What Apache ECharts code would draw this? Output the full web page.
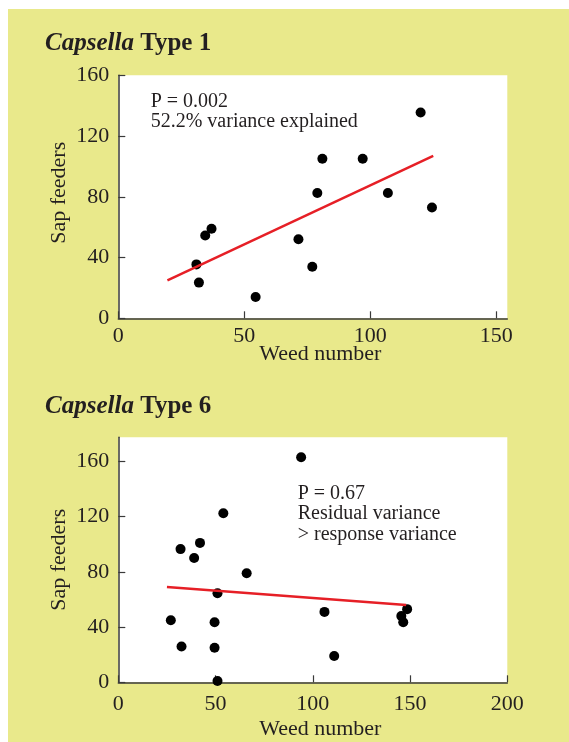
<!DOCTYPE html>
<html><head><meta charset="utf-8">
<script src="https://cdn.jsdelivr.net/npm/echarts@6/dist/echarts.min.js"></script>
<style>
html,body{margin:0;padding:0;background:#fff;}
#bg{position:absolute;left:8px;top:9px;width:561px;height:733px;background:#e9e98b;}
#c{position:absolute;left:0;top:0;width:569px;height:742px;}
</style>
</head><body><div id="bg"></div><div id="c"></div>
<script>
// Capsella Type 1
const t1Weed = [31, 32, 34.5, 37, 54.5, 71.5, 77, 79, 81, 97, 107, 120, 124.5];
const t1Sap  = [35.5, 23.5, 54.5, 59, 14, 52, 34, 82.5, 105, 105, 82.5, 135.5, 73];
const t1FitWeed = [19.5, 125];
const t1FitSap  = [25, 107];
// Capsella Type 6
const t6Weed = [27, 32, 32.5, 39, 42, 49.5, 49.5, 51, 51, 54, 66, 94, 106, 111, 145.5, 146.5, 148.5];
const t6Sap  = [45, 96.5, 26, 90, 101, 43.5, 25, 64.5, 1, 122.5, 79, 163, 51, 19, 48, 43.5, 53];
const t6FitWeed = [25, 148];
const t6FitSap  = [69, 56];
// ticks
const xTicks1 = [0, 50, 100, 150];
const yTicks1 = [0, 40, 80, 120, 160];
const xTicks6 = [0, 50, 100, 150, 200];
const yTicks6 = [0, 40, 80, 120, 160];
// texts
const genus = 'Capsella';
const typeLabels = ['Type 1', 'Type 6'];
const notes1 = ['P = 0.002', '52.2% variance explained'];
const notes6 = ['P = 0.67', 'Residual variance', '> response variance'];
const xName = 'Weed number';
const yName = 'Sap feeders';

const FONT = 'Liberation Serif';
const INK = '#231f20';
const AX = '#3a3a3a';

const zip = (a, b) => a.map((v, i) => [v, b[i]]);

function xAxis(grid, max, ticks, labelMargin, nameGap) {
  return {
    type: 'value', gridIndex: grid, min: 0, max: max,
    name: xName, nameLocation: 'middle', nameGap: nameGap, nameMoveOverlap: false,
    nameTextStyle: {fontFamily: FONT, fontSize: 22, color: INK, padding: [0, 0, 0, 15]},
    axisLine: {show: true, lineStyle: {color: AX, width: 1.5}},
    axisTick: {show: true, inside: true, length: 7, lineStyle: {color: AX, width: 1.2}, customValues: ticks},
    axisLabel: {fontFamily: FONT, fontSize: 22, color: INK, margin: labelMargin, customValues: ticks},
    splitLine: {show: false}
  };
}
function yAxis(grid, max, ticks, namePad) {
  return {
    type: 'value', gridIndex: grid, min: 0, max: max,
    name: yName, nameLocation: 'middle', nameGap: 48, nameRotate: 90, nameMoveOverlap: false,
    nameTextStyle: {fontFamily: FONT, fontSize: 22, color: INK, padding: namePad},
    axisLine: {show: true, lineStyle: {color: AX, width: 1.5}},
    axisTick: {show: true, inside: true, length: 7, lineStyle: {color: AX, width: 1.2}, customValues: ticks},
    axisLabel: {fontFamily: FONT, fontSize: 22, color: INK, margin: 9, customValues: ticks},
    splitLine: {show: false}
  };
}
function titleObj(txt, top) {
  return {
    left: 45, top: top, padding: 0,
    text: '{i|' + genus + '}{b| ' + txt + '}',
    textStyle: {
      rich: {
        i: {fontFamily: FONT, fontSize: 25, fontWeight: 'bold', fontStyle: 'italic', color: INK},
        b: {fontFamily: FONT, fontSize: 25, fontWeight: 'bold', color: INK}
      }
    }
  };
}

const chart = echarts.init(document.getElementById('c'), null, {renderer: 'canvas'});
chart.setOption({
  backgroundColor: 'transparent',
  animation: false,
  title: [titleObj(typeLabels[0], 31), titleObj(typeLabels[1], 394)],
  grid: [
    {left: 118.3, top: 75.3, width: 389, height: 243, show: true, backgroundColor: '#fff', borderWidth: 0},
    {left: 118.3, top: 437.3, width: 389, height: 245, show: true, backgroundColor: '#fff', borderWidth: 0}
  ],
  xAxis: [xAxis(0, 154.4, xTicks1, 7, 25), xAxis(1, 200, xTicks6, 11, 35.5)],
  yAxis: [yAxis(0, 160, yTicks1, [0, 0, 0, 8]), yAxis(1, 177.5, yTicks6, 0)],
  graphic: [
    {type: 'text', left: 150.7, top: 92, style: {text: notes1.join('\n'), font: '20px "Liberation Serif"', fill: INK, lineHeight: 19.5}},
    {type: 'text', left: 297.7, top: 483, style: {text: notes6.join('\n'), font: '20px "Liberation Serif"', fill: INK, lineHeight: 20.5}}
  ],
  series: [
    {type: 'scatter', xAxisIndex: 0, yAxisIndex: 0, data: zip(t1Weed, t1Sap), symbolSize: 10, itemStyle: {color: '#000', opacity: 1}, z: 3},
    {type: 'line', xAxisIndex: 0, yAxisIndex: 0, data: zip(t1FitWeed, t1FitSap), showSymbol: false, lineStyle: {color: '#e61f26', width: 2.5}, z: 4},
    {type: 'scatter', xAxisIndex: 1, yAxisIndex: 1, data: zip(t6Weed, t6Sap), symbolSize: 10, itemStyle: {color: '#000', opacity: 1}, z: 3},
    {type: 'line', xAxisIndex: 1, yAxisIndex: 1, data: zip(t6FitWeed, t6FitSap), showSymbol: false, lineStyle: {color: '#e61f26', width: 2.5}, z: 4}
  ]
});
</script>
</body></html>
